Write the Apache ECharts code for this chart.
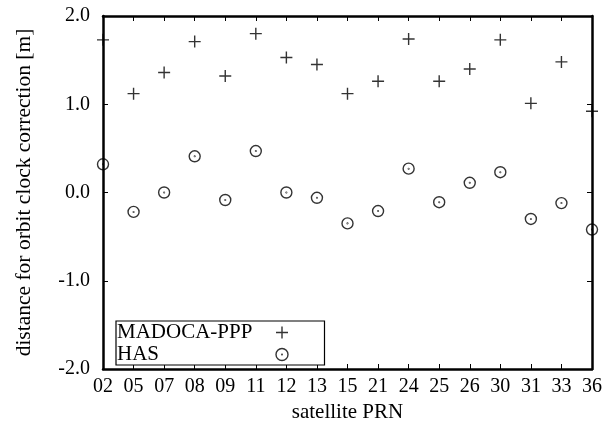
<!DOCTYPE html>
<html>
<head>
<meta charset="utf-8">
<script src="https://cdn.jsdelivr.net/npm/echarts@6/dist/echarts.min.js"></script>
<style>
html,body{margin:0;padding:0;background:#fff;}
#chart{width:611px;height:430px;}
</style>
</head>
<body>
<div id="chart"></div>
<script>
var categories = ['02','05','07','08','09','11','12','13','15','21','24','25','26','30','31','33','36'];
var madocaValues = [1.73,1.12,1.36,1.71,1.32,1.80,1.53,1.45,1.12,1.26,1.74,1.26,1.40,1.73,1.01,1.48,0.92];
var hasValues = [0.32,-0.22,0.00,0.41,-0.085,0.47,0.00,-0.06,-0.35,-0.21,0.27,-0.11,0.11,0.23,-0.30,-0.12,-0.42];
var yTicks = [-2.0,-1.0,0.0,1.0,2.0];

var FONT = 'Liberation Serif';
var plusPath = 'path://M0,6L12,6M6,0L6,12';
var odotPath = 'path://M12,6A6,6 0 1 1 0,6A6,6 0 1 1 12,6ZM6.35,6A0.35,0.35 0 1 1 5.65,6A0.35,0.35 0 1 1 6.35,6Z';
var markStyle = {color:'none', borderColor:'#000', borderWidth:1.4};

var chart = echarts.init(document.getElementById('chart'), null, {renderer:'canvas'});
var tickCommon = {show:true, inside:true, length:5, lineStyle:{color:'#000', width:1}};
chart.setOption({
  backgroundColor:'#fff',
  animation:false,
  textStyle:{fontFamily:FONT},
  grid:{left:103, right:19, top:16, bottom:61, show:false},
  legend:{
    orient:'vertical', left:116, top:321, align:'right',
    itemWidth:12, itemHeight:12, itemGap:1,
    padding:[1,34,0,1],
    borderColor:'#000', borderWidth:1.2,
    backgroundColor:'#fff',
    formatter:'{a|{name}}',
    textStyle:{fontFamily:FONT, fontSize:21, color:'#000', lineHeight:19,
      rich:{a:{fontFamily:FONT, fontSize:21, color:'#000', width:154, align:'left', lineHeight:19}}},
    data:[
      {name:'MADOCA-PPP', icon:plusPath, itemStyle:markStyle},
      {name:'HAS', icon:odotPath, itemStyle:markStyle}
    ]
  },
  xAxis:[{
    type:'category', data:categories, boundaryGap:false, position:'bottom',
    axisLine:{show:true, onZero:false, lineStyle:{color:'#000', width:2.5}},
    axisTick:Object.assign({interval:0}, tickCommon),
    axisLabel:{interval:0, margin:8, color:'#000', fontFamily:FONT, fontSize:20},
    splitLine:{show:false},
    name:'satellite PRN', nameLocation:'middle', nameGap:32,
    nameTextStyle:{fontFamily:FONT, fontSize:21, color:'#000'}
  },{
    type:'category', data:categories, boundaryGap:false, position:'top',
    axisLine:{show:true, onZero:false, lineStyle:{color:'#000', width:2.5}},
    axisTick:Object.assign({interval:0}, tickCommon),
    axisLabel:{show:false}, splitLine:{show:false}
  }],
  yAxis:[{
    type:'value', min:-2, max:2, interval:1, position:'left',
    axisLine:{show:true, onZero:false, lineStyle:{color:'#000', width:2.5}},
    axisTick:tickCommon,
    axisLabel:{margin:13, color:'#000', fontFamily:FONT, fontSize:20,
      formatter:function(v){return v.toFixed(1);}},
    splitLine:{show:false},
    name:'distance for orbit clock correction [m]', nameLocation:'middle', nameGap:68,
    nameTextStyle:{fontFamily:FONT, fontSize:21.5, color:'#000'}
  },{
    type:'value', min:-2, max:2, interval:1, position:'right',
    axisLine:{show:true, onZero:false, lineStyle:{color:'#000', width:2.5}},
    axisTick:tickCommon,
    axisLabel:{show:false}, splitLine:{show:false}
  }],
  series:[{
    name:'MADOCA-PPP', type:'scatter', xAxisIndex:0, yAxisIndex:0,
    data:madocaValues, symbol:plusPath, symbolSize:12, clip:false,
    itemStyle:markStyle, emphasis:{disabled:true}
  },{
    name:'HAS', type:'scatter', xAxisIndex:0, yAxisIndex:0,
    data:hasValues, symbol:odotPath, symbolSize:11, clip:false,
    itemStyle:markStyle, emphasis:{disabled:true}
  }]
});
</script>
</body>
</html>
